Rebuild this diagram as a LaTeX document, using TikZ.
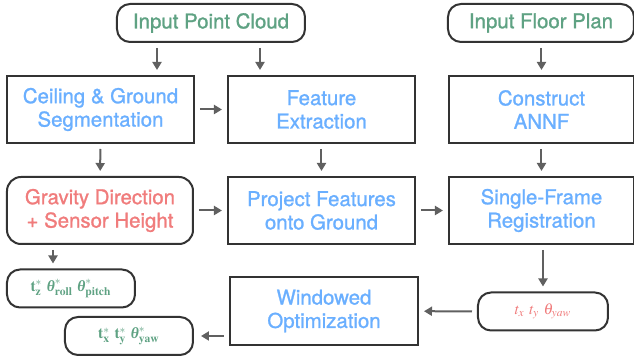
\documentclass[tikz,border=0pt]{standalone}
\usepackage{mathptmx}
\usepackage[no-math]{fontspec}
\setmainfont{TeX Gyre Heros}
\newfontfamily\medium{TeX Gyre Heros}[FakeBold=1.2]
\newfontfamily\serifgreek{Liberation Serif}
\newcommand\bth{\mbox{\serifgreek\bfseries\itshape θ}}
\usetikzlibrary{arrows.meta}
\definecolor{inblue}{HTML}{6AAFFF}
\definecolor{ingreen}{HTML}{5FA283}
\definecolor{inred}{HTML}{F07C7C}
\definecolor{edge}{HTML}{333333}
\definecolor{arrgray}{HTML}{606060}

\begin{document}
\begin{tikzpicture}[x=0.5pt,y=-0.5pt,>={Triangle[length=4pt,width=4.5pt]},
  every node/.style={inner sep=1pt,align=center,font=\medium\fontsize{10.2}{11.7}\selectfont},
  box/.style={draw=edge,line width=1pt,minimum width=93.5pt,minimum height=33.5pt,text=inblue},
  rbox/.style={box,rounded corners=7pt},
  tag/.style={draw=edge,line width=1pt,rounded corners=6.5pt,minimum width=64pt,minimum height=19pt},
  pose/.style={tag,font=\fontsize{7.8}{9}\selectfont},
  arr/.style={->,draw=arrgray,line width=1pt,shorten <=2.5pt,shorten >=2.5pt}]
  \useasboundingbox (0,0) rectangle (634,358);
  % inputs
  \node[tag,text=ingreen,minimum width=94pt] (pc) at (211,23) {Input Point Cloud};
  \node[tag,text=ingreen,minimum width=93pt] (fp) at (541,23) {Input Floor Plan};
  % first row
  \node[box] (ceil) at (100.5,109.5) {Ceiling \& Ground\\Segmentation};
  \node[box] (feat) at (321.5,109.5) {Feature\\Extraction};
  \node[box,minimum width=92.5pt] (annf) at (541.5,109.5) {Construct\\ANNF};
  % second row
  \node[rbox,text=inred,minimum width=93pt] (grav) at (100,210.5) {Gravity Direction\\+ Sensor Height};
  \node[box] (proj) at (321.5,210.5) {Project Features\\onto Ground};
  \node[box,minimum width=92.5pt] (sfr) at (541.5,210.5) {Single-Frame\\Registration};
  % outputs
  \node[pose,text=ingreen] (tz) at (71,288.5) {$\mathbf{t}^*_{\mathbf{z}}\ \bth^*_{\mathbf{roll}}\ \bth^*_{\mathbf{pitch}}$};
  \node[box,minimum width=94pt,minimum height=34pt] (win) at (324,311) {Windowed\\Optimization};
  \node[pose,text=inred,minimum width=65pt] (txr) at (543,311.5) {$t_x\ t_y\ \theta_{yaw}$};
  \node[pose,text=ingreen] (txs) at (129,336) {$\mathbf{t}^*_{\mathbf{x}}\ \mathbf{t}^*_{\mathbf{y}}\ \bth^*_{\mathbf{yaw}}$};
  % connectors
  \draw[arr] (pc.south -| 157,0) -- (ceil.north -| 157,0);
  \draw[arr] (pc.south -| 260,0) -- (feat.north -| 260,0);
  \draw[arr] (fp.south -| annf.north) -- (annf.north);
  \draw[arr] (ceil) -- (feat);
  \draw[arr] (ceil) -- (grav);
  \draw[arr] (feat) -- (proj);
  \draw[arr] (annf) -- (sfr);
  \draw[arr] (grav) -- (proj);
  \draw[arr] (proj) -- (sfr);
  \draw[arr] (grav.south -| 53,0) -- (tz.north -| 53,0);
  \draw[arr] (sfr.south -| txr.north) -- (txr.north);
  \draw[arr] (txr) -- (win);
  \draw[arr,shorten >=3.5pt] (win.west |- txs.east) -- (txs.east);
\end{tikzpicture}
\end{document}
